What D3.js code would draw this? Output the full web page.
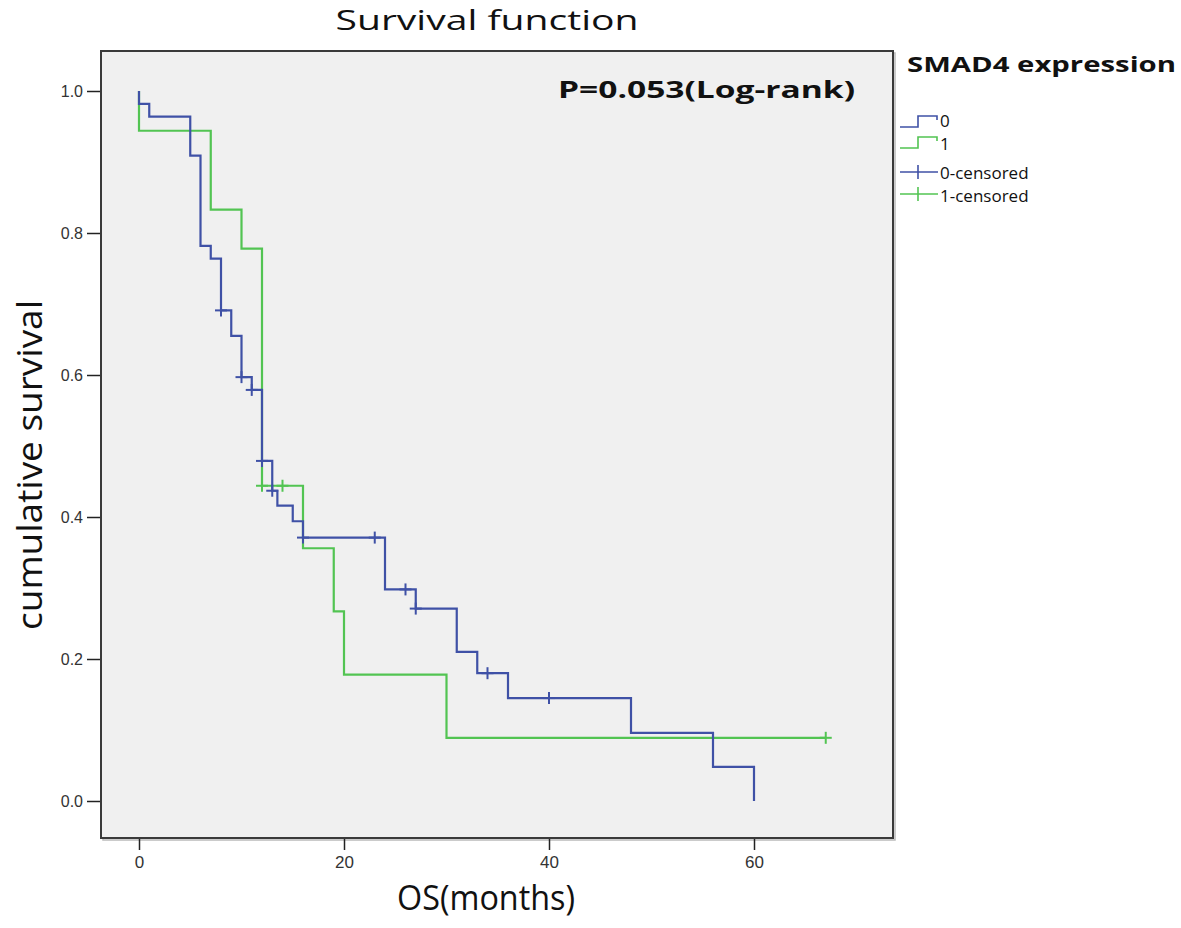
<!DOCTYPE html>
<html>
<head>
<meta charset="utf-8">
<script src="https://cdn.jsdelivr.net/npm/d3@7"></script>
<style>
  html, body { margin: 0; padding: 0; background: #ffffff; }
  svg { display: block; }
</style>
</head>
<body>
<script>
// ---------- data ----------
const group0Times = [0, 1, 5, 6, 7, 8, 9, 10, 11, 12, 13, 13.5, 15, 16, 24, 27, 31, 33, 36, 48, 56, 60];
const group0Surv  = [0.982, 0.964, 0.909, 0.782, 0.764, 0.691, 0.655, 0.597, 0.579, 0.479, 0.437, 0.416, 0.394, 0.371, 0.298, 0.271, 0.210, 0.180, 0.145, 0.096, 0.048, 0.0];
const group0CensorTimes = [8, 10, 11, 12, 13, 16, 23, 26, 27, 34, 40];
const group0CensorSurv  = [0.691, 0.597, 0.579, 0.479, 0.437, 0.371, 0.371, 0.298, 0.271, 0.180, 0.145];

const group1Times = [0, 7, 10, 12, 16, 19, 20, 30];
const group1Surv  = [0.944, 0.833, 0.778, 0.444, 0.356, 0.267, 0.178, 0.089];
const group1CensorTimes = [12, 14, 67];
const group1CensorSurv  = [0.444, 0.444, 0.089];
const group1LastTime = 67;

const xTickValues = [0, 20, 40, 60];
const yTickValues = [0, 0.2, 0.4, 0.6, 0.8, 1.0];
const legendLabels = ["0", "1", "0-censored", "1-censored"];
const chartTitle = "Survival function";
const legendTitle = "SMAD4 expression";
const pText = "P=0.053(Log-rank)";
const xTitle = "OS(months)";
const yTitle = "cumulative survival";

// ---------- layout ----------
const W = 1181, H = 928;
const frame = { left: 101, top: 51, right: 893, bottom: 838 };
const colorBlue = "#3f51a6";
const colorGreen = "#52c452";

const svg = d3.select("body").append("svg").attr("width", W).attr("height", H);

const x = d3.scaleLinear().domain([0, 60]).range([139, 754]);
const y = d3.scaleLinear().domain([0, 1]).range([801, 91]);

// plot frame
svg.append("rect")
  .attr("x", frame.left + 2).attr("y", frame.top + 2)
  .attr("width", frame.right - frame.left).attr("height", frame.bottom - frame.top)
  .attr("fill", "none").attr("stroke", "#bbbbbb").attr("stroke-width", 1.5);
svg.append("rect")
  .attr("x", frame.left).attr("y", frame.top)
  .attr("width", frame.right - frame.left).attr("height", frame.bottom - frame.top)
  .attr("fill", "#f0f0f0").attr("stroke", "#3a3a3a").attr("stroke-width", 2);

// axes
const xAxis = d3.axisBottom(x).tickValues(xTickValues).tickSize(11).tickSizeOuter(0).tickPadding(6).tickFormat(d3.format("d"));
const gx = svg.append("g").attr("transform", `translate(0,${frame.bottom + 1})`).call(xAxis);
gx.select(".domain").remove();
gx.selectAll(".tick line").attr("stroke", "#222").attr("stroke-width", 1.5);
gx.selectAll(".tick text").attr("fill", "#333").style("font-family", "Liberation Sans, Arial, sans-serif").style("font-size", "17px");

const yAxis = d3.axisLeft(y).tickValues(yTickValues).tickSize(13).tickSizeOuter(0).tickPadding(4).tickFormat(d3.format(".1f"));
const gy = svg.append("g").attr("transform", `translate(${frame.left - 1},0)`).call(yAxis);
gy.select(".domain").remove();
gy.selectAll(".tick line").attr("stroke", "#222").attr("stroke-width", 1.5);
gy.selectAll(".tick text").attr("fill", "#333").style("font-family", "Liberation Sans, Arial, sans-serif").style("font-size", "16px");

// curves
const line = d3.line().x(d => x(d[0])).y(d => y(d[1])).curve(d3.curveStepAfter);

const pts0 = [[0, 1]].concat(group0Times.map((t, i) => [t, group0Surv[i]]));
const pts1 = [[0, 1]].concat(group1Times.map((t, i) => [t, group1Surv[i]]));
pts1.push([group1LastTime, group1Surv[group1Surv.length - 1]]);

svg.append("path").attr("d", line(pts1)).attr("fill", "none").attr("stroke", colorGreen).attr("stroke-width", 2.2);
svg.append("path").attr("d", line(pts0)).attr("fill", "none").attr("stroke", colorBlue).attr("stroke-width", 2.2);

function censors(times, surv, color) {
  const g = svg.append("g");
  times.forEach((t, i) => {
    const cx = x(t), cy = y(surv[i]);
    g.append("line").attr("x1", cx).attr("x2", cx).attr("y1", cy - 6).attr("y2", cy + 6)
      .attr("stroke", color).attr("stroke-width", 2);
    g.append("line").attr("x1", cx - 6).attr("x2", cx + 6).attr("y1", cy).attr("y2", cy)
      .attr("stroke", color).attr("stroke-width", 2);
  });
}
censors(group1CensorTimes, group1CensorSurv, colorGreen);
censors(group0CensorTimes, group0CensorSurv, colorBlue);

// texts
const sans = "Open Sans, Noto Sans, sans-serif";
svg.append("text").attr("x", 487).attr("y", 30).attr("text-anchor", "middle")
  .style("font-family", sans).style("font-size", "28px").attr("fill", "#111")
  .attr("textLength", 303).attr("lengthAdjust", "spacingAndGlyphs").text(chartTitle);

svg.append("text").attr("x", 558).attr("y", 98)
  .style("font-family", sans).style("font-size", "24px").style("font-weight", "bold")
  .attr("textLength", 297).attr("lengthAdjust", "spacingAndGlyphs").attr("fill", "#111").text(pText);

svg.append("text").attr("x", 907).attr("y", 72)
  .style("font-family", sans).style("font-size", "22px").style("font-weight", "bold")
  .attr("textLength", 269).attr("lengthAdjust", "spacingAndGlyphs").attr("fill", "#111").text(legendTitle);

svg.append("text").attr("x", 486).attr("y", 910).attr("text-anchor", "middle")
  .style("font-family", sans).style("font-size", "34px").attr("fill", "#111")
  .attr("textLength", 178).attr("lengthAdjust", "spacingAndGlyphs").text(xTitle);

svg.append("text").attr("transform", "translate(42,465) rotate(-90)").attr("text-anchor", "middle")
  .style("font-family", sans).style("font-size", "34px").attr("fill", "#111")
  .attr("textLength", 330).attr("lengthAdjust", "spacingAndGlyphs").text(yTitle);

// legend
const legendColors = [colorBlue, colorGreen, colorBlue, colorGreen];
const legendY = [127, 148, 172, 194];
const legendBaseline = [127, 150, 179, 202];
legendLabels.forEach((lab, i) => {
  const ly = legendY[i];
  if (i < 2) {
    const top = ly - 11;
    svg.append("path").attr("d", `M900,${ly} H918 V${top} H937 V${top + 4}`)
      .attr("fill", "none").attr("stroke", legendColors[i]).attr("stroke-width", 1.6);
  } else {
    svg.append("line").attr("x1", 900).attr("x2", 938).attr("y1", ly).attr("y2", ly)
      .attr("stroke", legendColors[i]).attr("stroke-width", 1.6);
    svg.append("line").attr("x1", 918).attr("x2", 918).attr("y1", ly - 7).attr("y2", ly + 7)
      .attr("stroke", legendColors[i]).attr("stroke-width", 1.6);
  }
  svg.append("text").attr("x", 940).attr("y", legendBaseline[i])
    .style("font-family", sans).style("font-size", "17px").attr("fill", "#111").text(lab);
});
</script>
</body>
</html>
